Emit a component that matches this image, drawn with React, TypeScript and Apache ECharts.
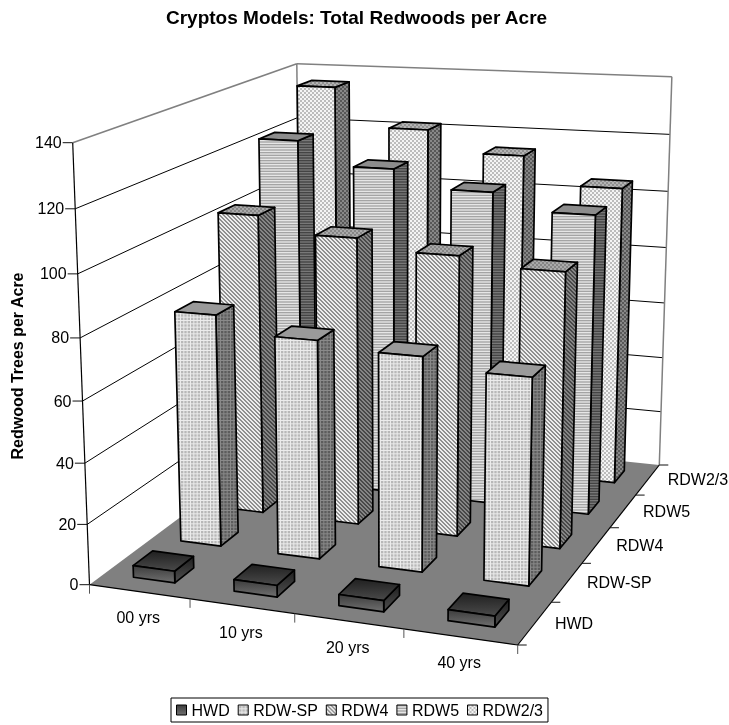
import React, { useEffect, useRef } from "react";
import * as echarts from "echarts";

const years = ["00 yrs", "10 yrs", "20 yrs", "40 yrs"];
const seriesNames = ["HWD", "RDW-SP", "RDW4", "RDW5", "RDW2/3"];
const yTicks = [0, 20, 40, 60, 80, 100, 120, 140];
const hwd = [3.9, 3.8, 3.6, 3.5];
const rdwSp = [78, 72.6, 70.4, 67];
const rdw4 = [103.4, 98, 94.5, 91.7];
const rdw5 = [122.4, 114.4, 108.4, 102.8];
const rdw23 = [135.7, 122, 114.5, 105];
const allValues = [hwd, rdwSp, rdw4, rdw5, rdw23];

// Projection of the chart's 3D box onto the page
const A = [89.5, 584.7], B = [517.7, 645], C = [659.3, 465], D = [301, 427.5], At = [72.7, 142.7], Ct = [671.7, 81];
const barU = 0.416, barV = 0.4;

const dx1 = B[0] - C[0], dx2 = D[0] - C[0], sx = A[0] - B[0] + C[0] - D[0];
const dy1 = B[1] - C[1], dy2 = D[1] - C[1], sy = A[1] - B[1] + C[1] - D[1];
const den = dx1 * dy2 - dx2 * dy1;
const g = (sx * dy2 - dx2 * sy) / den, h = (dx1 * sy - sx * dy1) / den;
const a = B[0] - A[0] + g * B[0], b = D[0] - A[0] + h * D[0], c = A[0];
const d = B[1] - A[1] + g * B[1], e = D[1] - A[1] + h * D[1], f = A[1];
const s1 = (At[0] - A[0]) / (At[1] - A[1]), s2 = (Ct[0] - C[0]) / (Ct[1] - C[1]);
const Vy = (C[0] - s2 * C[1] - A[0] + s1 * A[1]) / (s1 - s2);
const Vx = A[0] + s1 * (Vy - A[1]);
const k = (At[1] - f) / (Vy - At[1]);
function P(u: number, v: number, z: number): number[] {
  const w = g * u + h * v + 1 + k * z;
  return [(a * u + b * v + c + k * Vx * z) / w, (d * u + e * v + f + k * Vy * z) / w];
}

function patternImage(kind: string, hi: string, lo: string) {
  const cv = document.createElement("canvas");
  const n = kind === "grid" ? 10 : 8;
  cv.width = n; cv.height = n;
  const x = cv.getContext("2d")!;
  x.fillStyle = hi; x.fillRect(0, 0, n, n);
  x.fillStyle = lo;
  if (kind === "grid") {
    const p = n / 3;
    for (let i = 0; i < 3; i++) for (let j = 0; j < 3; j++) x.fillRect(i * p + 1, j * p + 1, p - 1, p - 1);
  } else if (kind === "hlines") {
    const p = n / 3;
    for (let i = 0; i < 3; i++) x.fillRect(0, i * p, n, p * 0.5);
  } else if (kind === "diag") {
    for (let i = 0; i < n; i++) for (let j = 0; j < n; j++) if ((i - j + n * 2) % 4 < 2) x.fillRect(i, j, 1, 1);
  } else {
    for (let i = 0; i < n; i++) for (let j = 0; j < n; j++) if ((Math.floor(i / 2) + Math.floor(j / 2)) % 2 === 0) x.fillRect(i, j, 1, 1);
  }
  return { image: cv, repeat: "repeat", imageWidth: n, imageHeight: n };
}
const vgrad = (t: string, bt: string) => ({ type: "linear", x: 0, y: 0, x2: 0, y2: 1, colorStops: [{ offset: 0, color: t }, { offset: 1, color: bt }] });

export default function App() {
  const ref = useRef<HTMLDivElement>(null);
  useEffect(() => {
    const faces = [
      { front: vgrad("#3c3c3c", "#707070"), side: vgrad("#1e1e1e", "#505050"), top: vgrad("#202020", "#4a4a4a") },
      { front: patternImage("grid", "#ececec", "#b8b8b8"), side: patternImage("grid", "#8a8a8a", "#5c5c5c"), top: "#9a9a9a" },
      { front: patternImage("diag", "#eeeeee", "#909090"), side: patternImage("diag", "#868686", "#484848"), top: patternImage("checker", "#aaaaaa", "#868686") },
      { front: patternImage("hlines", "#e6e6e6", "#a4a4a4"), side: patternImage("hlines", "#787878", "#444444"), top: "#8c8c8c" },
      { front: patternImage("checker", "#f4f4f4", "#bcbcbc"), side: patternImage("checker", "#888888", "#585858"), top: patternImage("checker", "#b4b4b4", "#909090") },
    ];
    const chart = echarts.init(ref.current!, null, { renderer: "svg" });
    const font = '16px "Liberation Sans"';
    const frame = (params: any, api: any) => {
      const cs = params.coordSys;
      const ch: any[] = [];
      const zOf = (t: number) => (cs.y + cs.height - api.coord([0, t])[1]) / cs.height;
      const uOf = (i: number) => (api.coord([i, 0])[0] - cs.x) / cs.width;
      const line = (p: number[], q: number[], stroke: string, w = 1) => ch.push({ type: "line", shape: { x1: p[0], y1: p[1], x2: q[0], y2: q[1] }, style: { stroke, lineWidth: w } });
      ch.push({ type: "polygon", shape: { points: [P(0, 0, 0), P(1, 0, 0), P(1, 1, 0), P(0, 1, 0)] }, style: { fill: "#808080" } });
      yTicks.forEach((t) => {
        const z = zOf(t);
        const p = P(0, 0, z);
        if (t > 0 && t < 140) { line(p, P(0, 1, z), "#000"); line(P(0, 1, z), P(1, 1, z), "#000"); }
        line([p[0] - 10, p[1]], p, "#111");
        ch.push({ type: "text", style: { text: String(t), x: p[0] - 11, y: p[1], font, fill: "#000", textAlign: "right", textVerticalAlign: "middle" } });
      });
      const top = 1;
      line(P(0, 0, top), P(0, 1, top), "#808080", 1.5);
      line(P(0, 1, top), P(1, 1, top), "#808080", 1.5);
      line(P(1, 1, top), P(1, 1, 0), "#808080", 1.5);
      line(P(0, 1, top), P(0, 1, 0), "#808080", 1.5);
      line(P(0, 0, 0), P(0, 0, top), "#000", 1.2);
      line(P(0, 0, 0), P(1, 0, 0), "#000", 1.2);
      line(P(1, 0, 0), P(1, 1, 0), "#000", 1.2);
      for (let i = 0; i <= years.length; i++) {
        const p = P(i / years.length, 0, 0);
        line(p, [p[0], p[1] + 9], "#555");
      }
      for (let i = 0; i <= seriesNames.length; i++) {
        const p = P(1, i / seriesNames.length, 0);
        line(p, [p[0] + 9, p[1]], "#111");
      }
      years.forEach((y, i) => {
        const p = P(uOf(i), 0, 0);
        ch.push({ type: "text", style: { text: y, x: p[0] - 1, y: p[1] + 26, font, fill: "#000", textAlign: "center", textVerticalAlign: "middle" } });
      });
      seriesNames.forEach((n, i) => {
        const p = P(1, (i + 0.5) / seriesNames.length, 0);
        ch.push({ type: "text", style: { text: n, x: p[0] + 20, y: p[1], font, fill: "#000", textAlign: "left", textVerticalAlign: "middle" } });
      });
      return { type: "group", children: ch };
    };
    const bar = (s: number) => (params: any, api: any) => {
      const cs = params.coordSys;
      const pt = api.coord([api.value(0), api.value(1)]);
      const band = api.size([1, 0])[0] / cs.width;
      const cu = (pt[0] - cs.x) / cs.width;
      const z = (cs.y + cs.height - pt[1]) / cs.height;
      const cv = (s + 0.5) / seriesNames.length, dv = 1 / seriesNames.length;
      const u0 = cu - (band * barU) / 2, u1 = cu + (band * barU) / 2;
      const v0 = cv - (dv * barV) / 2, v1 = cv + (dv * barV) / 2;
      const stroke = { stroke: "#000", lineWidth: 1.7, lineJoin: "round" };
      const poly = (pts: number[][], fill: any) => ({ type: "polygon", shape: { points: pts }, style: { fill, ...stroke } });
      return {
        type: "group",
        children: [
          poly([P(u1, v0, 0), P(u1, v1, 0), P(u1, v1, z), P(u1, v0, z)], faces[s].side),
          poly([P(u0, v0, z), P(u1, v0, z), P(u1, v1, z), P(u0, v1, z)], faces[s].top),
          poly([P(u0, v0, 0), P(u1, v0, 0), P(u1, v0, z), P(u0, v0, z)], faces[s].front),
        ],
      };
    };
    chart.setOption({
      animation: false,
      title: { text: "Cryptos Models: Total Redwoods per Acre", left: 166, top: 8, padding: 0, textStyle: { fontFamily: "Liberation Sans", fontWeight: "bold", fontSize: 19, color: "#000" } },
      legend: {
        left: 171, top: 698, padding: [4, 5], itemWidth: 10, itemHeight: 10, itemGap: 8, borderColor: "#000", borderWidth: 1,
        textStyle: { fontFamily: "Liberation Sans", fontSize: 16, color: "#000" },
        data: seriesNames.map((n, i) => ({ name: n, icon: "rect", itemStyle: { color: faces[i].front, borderColor: "#000", borderWidth: 1 } })),
      },
      grid: { left: 90, top: 143, width: 428, height: 442 },
      xAxis: { type: "category", data: years, show: false },
      yAxis: { type: "value", min: 0, max: 140, interval: 20, show: false },
      graphic: [{ type: "text", x: 17, y: 366, rotation: Math.PI / 2, style: { text: "Redwood Trees per Acre", font: 'bold 16px "Liberation Sans"', fill: "#000", textAlign: "center", textVerticalAlign: "middle" } }],
      series: [
        { type: "custom", name: "frame", z: 1, silent: true, clip: false, renderItem: frame, data: [[0, 0]] },
        ...seriesNames.map((n, s) => ({
          type: "custom", name: n, z: 10 - s, clip: false, silent: true, renderItem: bar(s),
          data: allValues[s].map((val, i) => [i, val]),
        })),
      ],
    });
    return () => chart.dispose();
  }, []);
  return (
    <div style={{ position: "fixed", left: 0, top: 0, width: 729, height: 725 }}>
      <div ref={ref} style={{ width: 729, height: 725 }} />
    </div>
  );
}
